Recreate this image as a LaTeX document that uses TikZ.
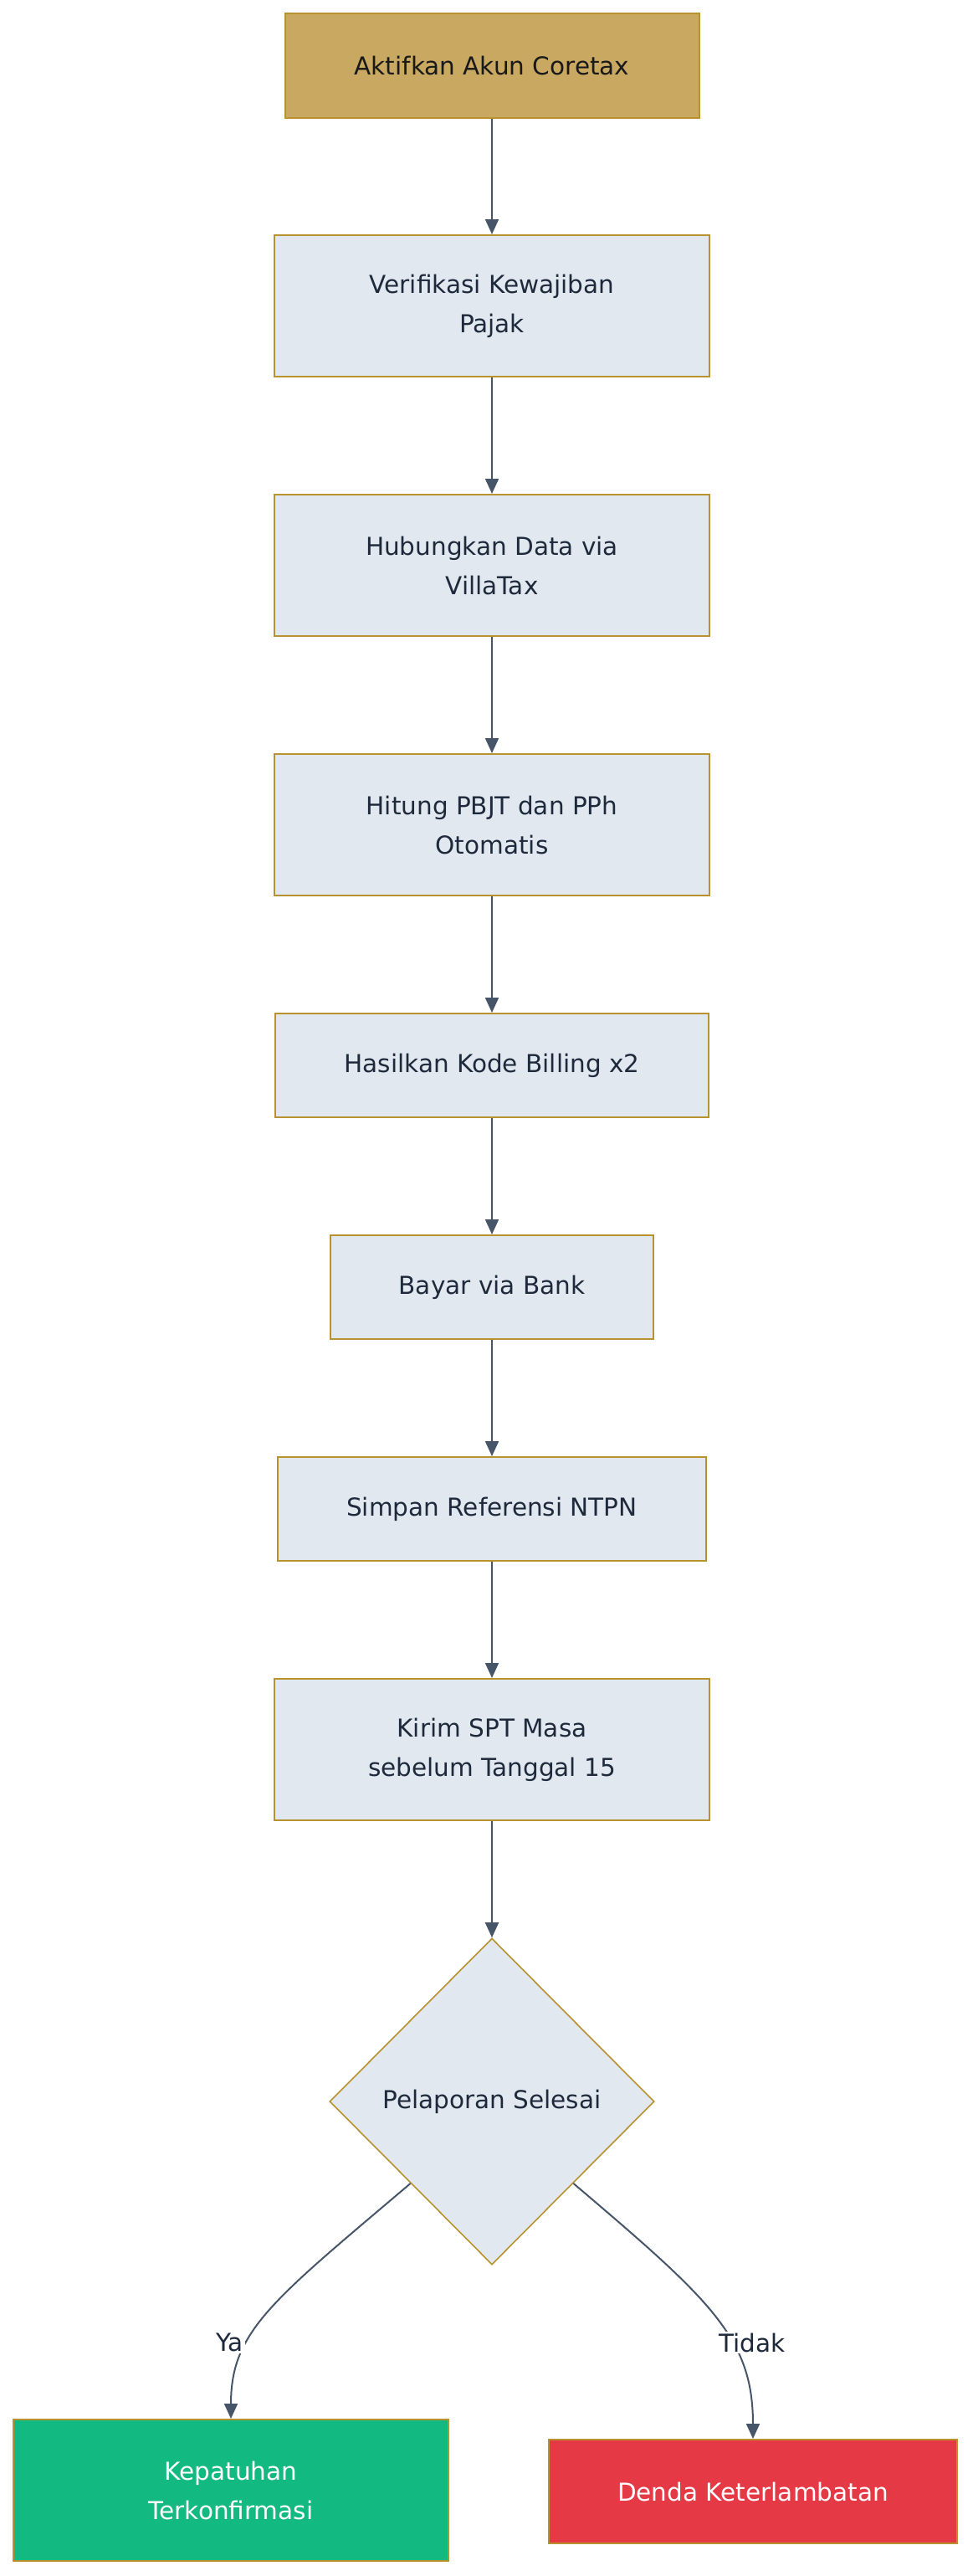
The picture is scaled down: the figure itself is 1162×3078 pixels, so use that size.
\documentclass[tikz,border=0pt]{standalone}
\usepackage{fontspec}
\setmainfont{DejaVu Sans}
\usetikzlibrary{shapes.geometric,arrows.meta}
\definecolor{goldfill}{HTML}{C9A862}
\definecolor{goldline}{HTML}{B8922E}
\definecolor{lightfill}{HTML}{E2E8F0}
\definecolor{txt}{HTML}{1E293B}
\definecolor{edgec}{HTML}{475569}
\definecolor{okfill}{HTML}{12B981}
\definecolor{badfill}{HTML}{E63946}
\tikzset{
  box/.style={draw=goldline, line width=2pt, fill=lightfill, text=txt, inner sep=0pt,
    align=center, font=\fontsize{29.5}{47}\selectfont},
  startbox/.style={box, fill=goldfill, text=black!90},
  okbox/.style={box, fill=okfill, text=white},
  badbox/.style={box, fill=badfill, text=white},
  decision/.style={box, diamond, line width=1.6pt, aspect=1},
  edge/.style={draw=edgec, line width=2pt, -{Triangle[length=18pt,width=16pt]}},
  lbl/.style={fill=white, text=txt, inner sep=2pt, font=\fontsize{29.5}{35}\selectfont}
}
\begin{document}
\begin{tikzpicture}[x=1pt,y=-1pt]
\useasboundingbox (0,0) rectangle (1162,3078);
\node[startbox, minimum width=495pt, minimum height=125pt] (n1) at (588,78.5) {Aktifkan Akun Coretax};
\node[box, minimum width=520pt, minimum height=169pt] (n2) at (588,365.5) {Verifikasi Kewajiban\\Pajak};
\node[box, minimum width=520pt, minimum height=169pt] (n3) at (588,675.5) {Hubungkan Data via\\VillaTax};
\node[box, minimum width=520pt, minimum height=169pt] (n4) at (588,985.5) {Hitung PBJT dan PPh\\Otomatis};
\node[box, minimum width=518pt, minimum height=124pt] (n5) at (588,1273) {Hasilkan Kode Billing x2};
\node[box, minimum width=386pt, minimum height=124pt] (n6) at (588,1538) {Bayar via Bank};
\node[box, minimum width=512pt, minimum height=124pt] (n7) at (588,1803) {Simpan Referensi NTPN};
\node[box, minimum width=520pt, minimum height=169pt] (n8) at (588,2090.5) {Kirim SPT Masa\\sebelum Tanggal 15};
\node[decision, minimum width=388pt, minimum height=390pt] (d) at (588,2511) {Pelaporan Selesai};
\node[okbox, minimum width=520pt, minimum height=169pt] (k) at (276,2975.5) {Kepatuhan\\Terkonfirmasi};
\node[badbox, minimum width=488pt, minimum height=124pt] (den) at (900,2977) {Denda Keterlambatan};

\draw[edge] (n1) -- (n2);
\draw[edge] (n2) -- (n3);
\draw[edge] (n3) -- (n4);
\draw[edge] (n4) -- (n5);
\draw[edge] (n5) -- (n6);
\draw[edge] (n6) -- (n7);
\draw[edge] (n7) -- (n8);
\draw[edge] (n8) -- (d);
\draw[edge] (d.south west) .. controls +(-165,140) and +(0,-105) .. (k.north);
\draw[edge] (d.south east) .. controls +(165,140) and +(0,-120) .. (den.north);
\node[lbl] (ya) at (275,2799) {Ya};
\node[lbl] (tidak) at (899,2799) {Tidak};
\end{tikzpicture}
\end{document}
